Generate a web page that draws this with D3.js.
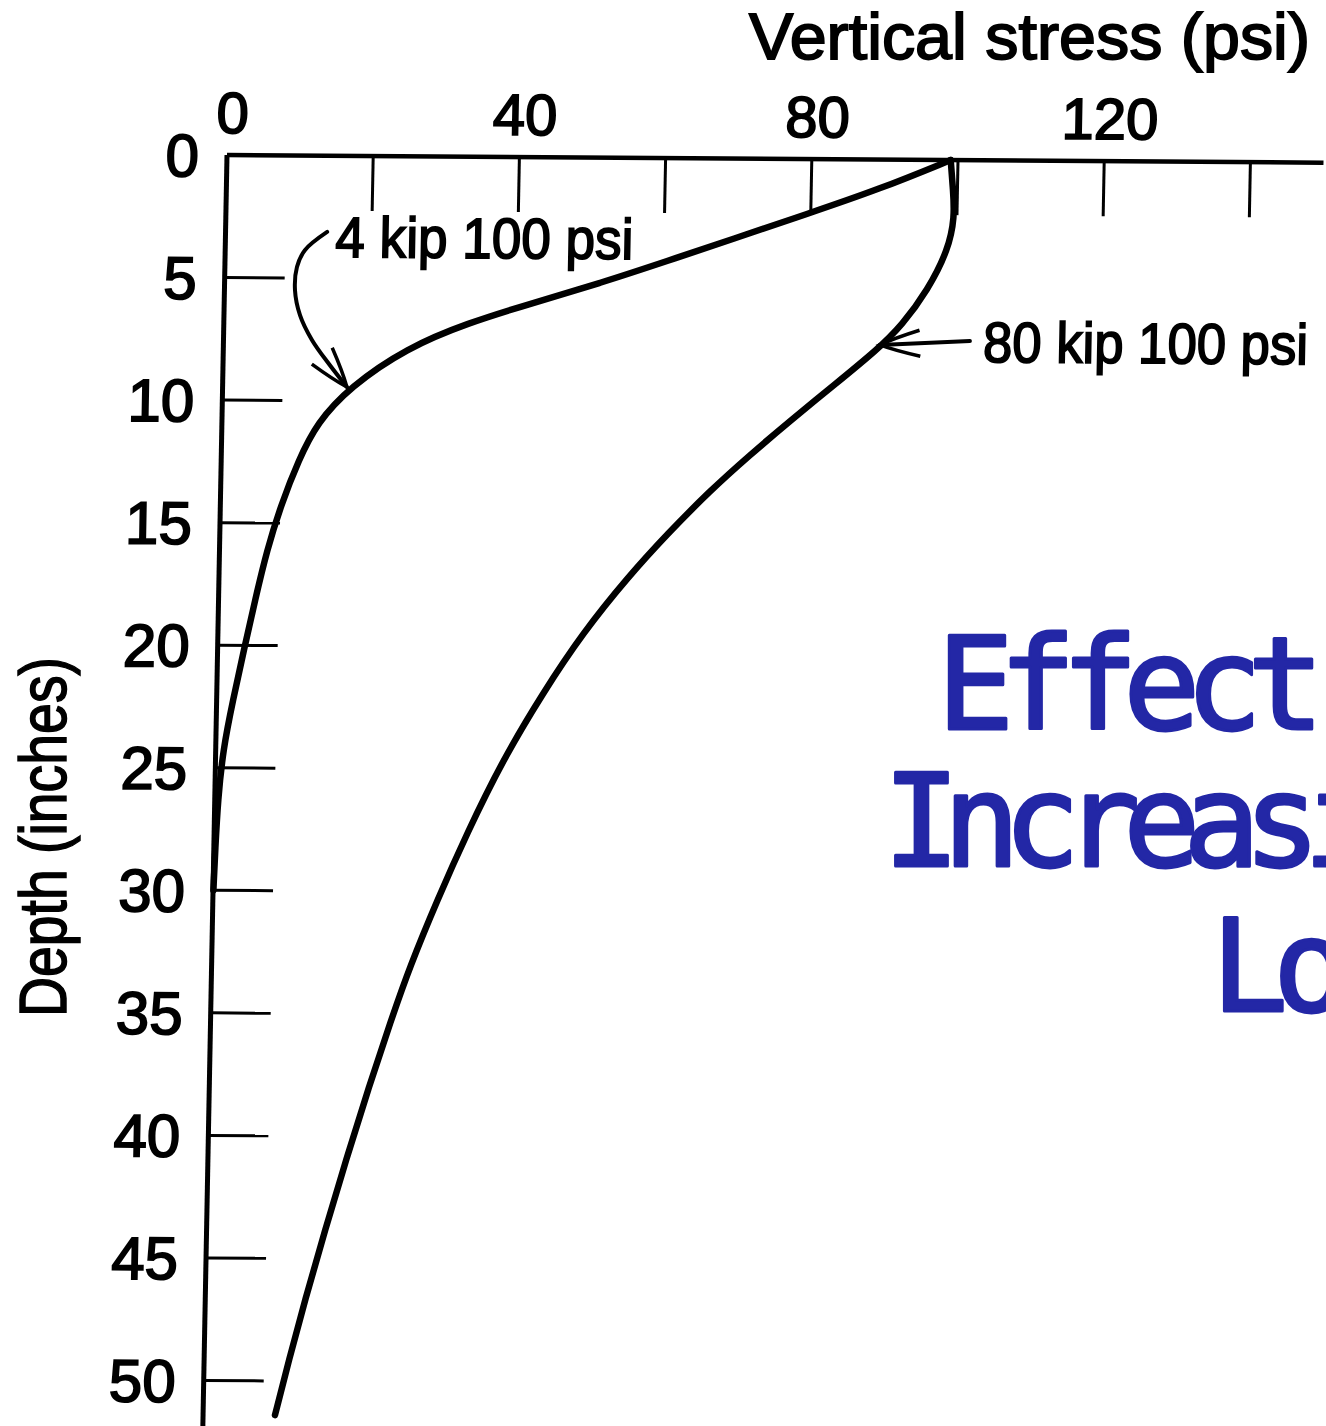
<!DOCTYPE html>
<html><head><meta charset="utf-8">
<script src="https://cdn.jsdelivr.net/npm/d3@7"></script>
<style>body{margin:0;background:#fff;overflow:hidden}</style>
</head><body>
<svg id="chart" width="1326" height="1426" xmlns="http://www.w3.org/2000/svg"></svg>
<script>
// ---------- data ----------
const stressTicks  = [0, 20, 40, 60, 80, 100, 120, 140];
const stressLabels = [0, 40, 80, 120];
const depthTicks   = [5, 10, 15, 20, 25, 30, 35, 40, 45, 50];
const depthLabels  = [0, 5, 10, 15, 20, 25, 30, 35, 40, 45, 50];

// [vertical stress (psi), depth (in)]
const load4kip = [
  [99, 0], [89.4, 1.20], [79.5, 2.24], [69.4, 3.28], [60.5, 4.20], [51.4, 5.12],
  [42.2, 5.95], [33.3, 6.79], [25.1, 7.82], [17.4, 9.43], [13.0, 10.91], [10.6, 12.42],
  [8.3, 14.26], [6.5, 16.1], [5.0, 18.15], [3.6, 20.19], [2.24, 22.23], [1.0, 24.27],
  [0.44, 26.3], [0.2, 28.3], [0.05, 30]
];
const load80kip = [
  [99, 0], [99.4, 1.22], [99.7, 2.32], [98.9, 3.67], [96.2, 5.31], [92.8, 6.74],
  [89.4, 7.77], [83.8, 9.17], [77.7, 10.69], [72.3, 12.09], [66.9, 13.57], [61.2, 15.34],
  [55.95, 17.1], [49.9, 19.4], [44.6, 21.86], [39.3, 24.6], [34.6, 27.59], [30.7, 30.33],
  [27.1, 33.07], [24.7, 35.24], [21.7, 38.1], [18.9, 40.96], [16.2, 43.83], [13.65, 46.69],
  [11.6, 49.14], [9.84, 51.39]
];

const label4kip  = {text: "4 kip 100 psi",  psi: 15.05, depth: 4.13};
const label80kip = {text: "80 kip 100 psi", psi: 103.9, depth: 8.23};
const arrow4kip  = [[13.9, 3.11], [10.9, 3.86], [9.86, 4.55], [9.65, 5.49], [10.4, 6.51], [12.1, 7.52], [14.6, 8.54], [17.0, 9.43]];
const arrow80kip = [[102.1, 7.38], [89.8, 7.56]];

const xTitle = "Vertical stress (psi)";
const yTitle = "Depth (inches)";
const titleLines = ["Effect of", "Increasing", "Load"];

// ---------- drawing ----------
const svg = d3.select("#chart");
svg.append("rect").attr("width", 1326).attr("height", 1426).attr("fill", "#fff");

const x = d3.scaleLinear().domain([0, 150]).range([0, 150 * 7.31]);
const y = d3.scaleLinear().domain([0, 52]).range([0, 52 * 24.51]);

// the scanned figure is slightly skewed
const g = svg.append("g").attr("transform", "matrix(1,0.007,-0.019,1,227,155)");

const numFont = "'Liberation Sans', Arial, sans-serif";

// axis lines
g.append("line").attr("x1", 0).attr("x2", x(150)).attr("y1", 0).attr("y2", 0)
  .attr("stroke", "#000").attr("stroke-width", 4.5);
g.append("line").attr("x1", 0).attr("x2", 0).attr("y1", 0).attr("y2", y(52))
  .attr("stroke", "#000").attr("stroke-width", 5);

// x ticks (pointing down into plot)
g.selectAll(".xt").data(stressTicks.filter(d => d > 0)).join("line")
  .attr("x1", d => x(d)).attr("x2", d => x(d)).attr("y1", 0).attr("y2", 55)
  .attr("stroke", "#000").attr("stroke-width", 3);
g.selectAll(".xl").data(stressLabels).join("text")
  .attr("x", d => x(d) + 5).attr("y", -22)
  .attr("text-anchor", "middle").attr("font-family", numFont).attr("font-size", 58)
  .attr("fill", "#000").attr("stroke", "#000").attr("stroke-width", 1.8)
  .text(d => d);

// y ticks (pointing right into plot)
g.selectAll(".yt").data(depthTicks).join("line")
  .attr("x1", 0).attr("x2", 60).attr("y1", d => y(d)).attr("y2", d => y(d))
  .attr("stroke", "#000").attr("stroke-width", 3);
g.selectAll(".yl").data(depthLabels).join("text")
  .attr("x", -28).attr("y", d => y(d)).attr("dy", "0.36em")
  .attr("text-anchor", "end").attr("font-family", numFont).attr("font-size", 60)
  .attr("fill", "#000").attr("stroke", "#000").attr("stroke-width", 1.8)
  .text(d => d);

// curves
const line = d3.line().x(d => x(d[0])).y(d => y(d[1])).curve(d3.curveBasis);
g.append("path").attr("d", line(load4kip)).attr("fill", "none")
  .attr("stroke", "#000").attr("stroke-width", 6.5).attr("stroke-linecap", "round");
g.append("path").attr("d", line(load80kip)).attr("fill", "none")
  .attr("stroke", "#000").attr("stroke-width", 6.5).attr("stroke-linecap", "round");

// arrow marker
svg.append("defs").append("marker")
  .attr("id", "arrowhead").attr("markerUnits", "userSpaceOnUse")
  .attr("viewBox", "-50 -20 55 40").attr("refX", 0).attr("refY", 0)
  .attr("markerWidth", 55).attr("markerHeight", 40).attr("orient", "auto")
  .append("path").attr("d", "M-40,-13 Q-14,-6 0,0 Q-14,6 -40,13")
  .attr("fill", "none").attr("stroke", "#000").attr("stroke-width", 3.5);

g.append("path").attr("d", d3.line().x(d => x(d[0])).y(d => y(d[1])).curve(d3.curveCatmullRom)(arrow4kip))
  .attr("fill", "none").attr("stroke", "#000").attr("stroke-width", 4)
  .attr("stroke-linecap", "round").attr("marker-end", "url(#arrowhead)");
g.append("path").attr("d", d3.line().x(d => x(d[0])).y(d => y(d[1]))(arrow80kip))
  .attr("fill", "none").attr("stroke", "#000").attr("stroke-width", 4)
  .attr("stroke-linecap", "round").attr("marker-end", "url(#arrowhead)");

// curve labels
[[label4kip, 298], [label80kip, 325]].forEach(([L, len]) => {
  g.append("text").attr("x", x(L.psi)).attr("y", y(L.depth))
    .attr("font-family", numFont).attr("font-size", 57)
    .attr("textLength", len).attr("lengthAdjust", "spacingAndGlyphs")
    .attr("fill", "#000").attr("stroke", "#000").attr("stroke-width", 1.8)
    .text(L.text);
});

// axis titles
svg.append("text").attr("x", 749).attr("y", 59)
  .attr("font-family", numFont).attr("font-size", 65)
  .attr("textLength", 561).attr("lengthAdjust", "spacingAndGlyphs")
  .attr("fill", "#000").attr("stroke", "#000").attr("stroke-width", 1.8)
  .text(xTitle);
svg.append("text").attr("transform", "translate(66,837) rotate(-90)")
  .attr("text-anchor", "middle")
  .attr("font-family", numFont).attr("font-size", 67)
  .attr("textLength", 360).attr("lengthAdjust", "spacingAndGlyphs")
  .attr("fill", "#000").attr("stroke", "#000").attr("stroke-width", 1.5)
  .text(yTitle);

// blue slide title (clipped at the right edge, as in the reference)
const titleX = [937, 883, 1211];
const titleY = [729, 866, 1011];
const titleSpacing = [-15, -17, -15];
svg.selectAll(".title").data(titleLines).join("text")
  .attr("x", (d, i) => titleX[i]).attr("y", (d, i) => titleY[i])
  .attr("font-family", "'DejaVu Sans Mono', monospace").attr("font-size", 128)
  .attr("letter-spacing", (d, i) => titleSpacing[i])
  .attr("fill", "#2327a6").attr("stroke", "#2327a6").attr("stroke-width", 3)
  .attr("stroke-linejoin", "round")
  .text(d => d);
</script>
</body></html>
